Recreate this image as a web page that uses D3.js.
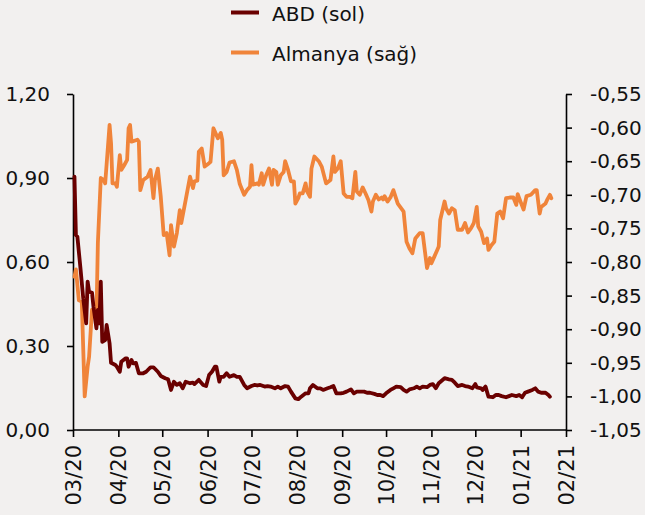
<!DOCTYPE html>
<html>
<head>
<meta charset="utf-8">
<script src="https://cdn.jsdelivr.net/npm/d3@7/dist/d3.min.js"></script>
<style>
  html, body { margin: 0; padding: 0; background: #F2F0EF; }
  svg { display: block; font-family: "DejaVu Sans", Verdana, sans-serif; }
</style>
</head>
<body>
<svg id="chart" width="645" height="515"></svg>
<script>
// ---- Data ----
const seriesNames = ["ABD (sol)", "Almanya (sağ)"];
const seriesColors = ["#6A0000", "#F0843A"];

// ABD – left axis
const abdSeries = [
  ["2020-03-02",0.905],["2020-03-03",0.696],["2020-03-04",0.690],["2020-03-06",0.583],
  ["2020-03-08",0.470],["2020-03-10",0.381],["2020-03-11",0.530],["2020-03-12",0.494],
  ["2020-03-14",0.490],["2020-03-15",0.440],["2020-03-17",0.363],["2020-03-18",0.429],
  ["2020-03-19",0.381],["2020-03-20",0.530],["2020-03-21",0.315],["2020-03-23",0.321],
  ["2020-03-24",0.375],["2020-03-26",0.310],["2020-03-27",0.240],["2020-03-30",0.232],
  ["2020-03-31",0.226],["2020-04-02",0.208],["2020-04-03",0.244],["2020-04-06",0.256],
  ["2020-04-07",0.256],["2020-04-08",0.226],["2020-04-10",0.250],["2020-04-11",0.238],
  ["2020-04-13",0.240],["2020-04-15",0.2025],["2020-04-18",0.2025],["2020-04-20",0.208],
  ["2020-04-23",0.224],["2020-04-25",0.224],["2020-04-28",0.208],["2020-04-30",0.193],
  ["2020-05-03",0.185],["2020-05-05",0.181],["2020-05-07",0.143],["2020-05-09",0.1725],
  ["2020-05-11",0.161],["2020-05-13",0.167],["2020-05-15",0.149],["2020-05-17",0.1725],
  ["2020-05-20",0.167],["2020-05-22",0.169],["2020-05-23",0.164],["2020-05-26",0.179],
  ["2020-05-29",0.161],["2020-05-31",0.157],["2020-06-02",0.196],["2020-06-04",0.208],
  ["2020-06-06",0.226],["2020-06-07",0.226],["2020-06-09",0.1725],["2020-06-10",0.190],
  ["2020-06-12",0.190],["2020-06-14",0.2025],["2020-06-16",0.190],["2020-06-19",0.196],
  ["2020-06-21",0.190],["2020-06-23",0.190],["2020-06-26",0.161],["2020-06-28",0.149],
  ["2020-07-01",0.157],["2020-07-03",0.161],["2020-07-05",0.159],["2020-07-07",0.161],
  ["2020-07-10",0.155],["2020-07-12",0.157],["2020-07-14",0.155],["2020-07-17",0.149],
  ["2020-07-19",0.155],["2020-07-21",0.149],["2020-07-24",0.157],["2020-07-26",0.155],
  ["2020-07-28",0.137],["2020-07-31",0.113],["2020-08-02",0.110],["2020-08-04",0.119],
  ["2020-08-07",0.131],["2020-08-09",0.131],["2020-08-10",0.149],["2020-08-12",0.161],
  ["2020-08-15",0.149],["2020-08-17",0.149],["2020-08-19",0.143],["2020-08-22",0.149],
  ["2020-08-24",0.1525],["2020-08-26",0.157],["2020-08-28",0.131],["2020-08-31",0.131],
  ["2020-09-02",0.133],["2020-09-04",0.137],["2020-09-07",0.145],["2020-09-09",0.131],
  ["2020-09-11",0.137],["2020-09-14",0.137],["2020-09-16",0.137],["2020-09-18",0.133],
  ["2020-09-20",0.133],["2020-09-23",0.129],["2020-09-25",0.125],["2020-09-27",0.125],
  ["2020-09-29",0.121],["2020-10-01",0.131],["2020-10-04",0.143],["2020-10-06",0.149],
  ["2020-10-08",0.155],["2020-10-11",0.153],["2020-10-13",0.143],["2020-10-15",0.137],
  ["2020-10-17",0.145],["2020-10-20",0.149],["2020-10-22",0.155],["2020-10-24",0.149],
  ["2020-10-26",0.155],["2020-10-29",0.153],["2020-10-31",0.161],["2020-11-02",0.164],
  ["2020-11-04",0.149],["2020-11-06",0.167],["2020-11-10",0.185],["2020-11-13",0.181],
  ["2020-11-15",0.179],["2020-11-17",0.169],["2020-11-19",0.157],["2020-11-22",0.161],
  ["2020-11-24",0.157],["2020-11-26",0.155],["2020-11-29",0.149],["2020-12-01",0.164],
  ["2020-12-02",0.1525],["2020-12-05",0.149],["2020-12-06",0.143],["2020-12-08",0.155],
  ["2020-12-10",0.119],["2020-12-13",0.117],["2020-12-15",0.125],["2020-12-17",0.125],
  ["2020-12-19",0.121],["2020-12-22",0.117],["2020-12-24",0.121],["2020-12-26",0.125],
  ["2020-12-29",0.121],["2020-12-31",0.125],["2021-01-02",0.117],["2021-01-04",0.133],
  ["2021-01-06",0.137],["2021-01-09",0.143],["2021-01-11",0.149],["2021-01-13",0.137],
  ["2021-01-15",0.133],["2021-01-18",0.133],["2021-01-20",0.125],["2021-01-21",0.119]
];

// Almanya – right axis
const almanyaSeries = [
  ["2020-03-02",-0.822],["2020-03-03",-0.811],["2020-03-05",-0.857],["2020-03-07",-0.859],
  ["2020-03-09",-1.000],["2020-03-11",-0.956],["2020-03-12",-0.941],["2020-03-14",-0.871],
  ["2020-03-15",-0.879],["2020-03-17",-0.884],["2020-03-18",-0.772],["2020-03-20",-0.675],
  ["2020-03-22",-0.678],["2020-03-23",-0.683],["2020-03-26",-0.596],["2020-03-27",-0.623],
  ["2020-03-28",-0.683],["2020-03-30",-0.683],["2020-03-31",-0.688],["2020-04-02",-0.641],
  ["2020-04-03",-0.663],["2020-04-05",-0.656],["2020-04-07",-0.648],["2020-04-08",-0.601],
  ["2020-04-09",-0.596],["2020-04-10",-0.621],["2020-04-14",-0.618],["2020-04-15",-0.621],
  ["2020-04-16",-0.693],["2020-04-18",-0.678],["2020-04-21",-0.673],["2020-04-23",-0.663],
  ["2020-04-25",-0.705],["2020-04-26",-0.678],["2020-04-28",-0.661],["2020-04-30",-0.703],
  ["2020-05-02",-0.760],["2020-05-04",-0.757],["2020-05-06",-0.790],["2020-05-07",-0.745],
  ["2020-05-09",-0.777],["2020-05-11",-0.757],["2020-05-13",-0.723],["2020-05-14",-0.742],
  ["2020-05-17",-0.708],["2020-05-20",-0.673],["2020-05-22",-0.690],["2020-05-23",-0.680],
  ["2020-05-25",-0.679],["2020-05-26",-0.636],["2020-05-28",-0.631],["2020-05-30",-0.658],
  ["2020-06-02",-0.653],["2020-06-03",-0.651],["2020-06-05",-0.601],["2020-06-07",-0.611],
  ["2020-06-08",-0.616],["2020-06-10",-0.608],["2020-06-11",-0.618],["2020-06-12",-0.671],
  ["2020-06-14",-0.666],["2020-06-16",-0.652],["2020-06-19",-0.650],["2020-06-21",-0.663],
  ["2020-06-23",-0.684],["2020-06-26",-0.700],["2020-06-28",-0.693],["2020-06-30",-0.688],
  ["2020-07-01",-0.656],["2020-07-02",-0.685],["2020-07-05",-0.683],["2020-07-06",-0.685],
  ["2020-07-08",-0.668],["2020-07-09",-0.685],["2020-07-11",-0.671],["2020-07-13",-0.661],
  ["2020-07-15",-0.685],["2020-07-16",-0.663],["2020-07-18",-0.666],["2020-07-19",-0.685],
  ["2020-07-21",-0.671],["2020-07-23",-0.666],["2020-07-24",-0.650],["2020-07-26",-0.663],
  ["2020-07-28",-0.680],["2020-07-30",-0.680],["2020-07-31",-0.713],["2020-08-02",-0.705],
  ["2020-08-03",-0.698],["2020-08-05",-0.698],["2020-08-07",-0.683],["2020-08-08",-0.695],
  ["2020-08-10",-0.703],["2020-08-11",-0.661],["2020-08-13",-0.643],["2020-08-16",-0.650],
  ["2020-08-18",-0.658],["2020-08-21",-0.683],["2020-08-24",-0.678],["2020-08-26",-0.643],
  ["2020-08-27",-0.666],["2020-08-29",-0.661],["2020-08-31",-0.650],["2020-09-02",-0.698],
  ["2020-09-04",-0.703],["2020-09-06",-0.703],["2020-09-08",-0.705],["2020-09-10",-0.666],
  ["2020-09-11",-0.695],["2020-09-13",-0.700],["2020-09-15",-0.689],["2020-09-17",-0.698],
  ["2020-09-19",-0.708],["2020-09-21",-0.725],["2020-09-22",-0.710],["2020-09-24",-0.700],
  ["2020-09-26",-0.707],["2020-09-28",-0.704],["2020-09-29",-0.707],["2020-09-30",-0.702],
  ["2020-10-02",-0.710],["2020-10-04",-0.704],["2020-10-06",-0.693],["2020-10-09",-0.713],
  ["2020-10-11",-0.719],["2020-10-13",-0.725],["2020-10-15",-0.770],["2020-10-17",-0.780],
  ["2020-10-19",-0.787],["2020-10-21",-0.765],["2020-10-24",-0.757],["2020-10-26",-0.757],
  ["2020-10-29",-0.809],["2020-10-31",-0.794],["2020-11-01",-0.802],["2020-11-03",-0.792],
  ["2020-11-05",-0.782],["2020-11-06",-0.777],["2020-11-07",-0.7375],["2020-11-10",-0.710],
  ["2020-11-11",-0.720],["2020-11-13",-0.728],["2020-11-15",-0.720],["2020-11-17",-0.723],
  ["2020-11-19",-0.752],["2020-11-22",-0.752],["2020-11-24",-0.742],["2020-11-26",-0.756],
  ["2020-11-28",-0.750],["2020-11-30",-0.742],["2020-12-02",-0.718],["2020-12-03",-0.747],
  ["2020-12-05",-0.755],["2020-12-07",-0.772],["2020-12-09",-0.765],["2020-12-10",-0.782],
  ["2020-12-12",-0.775],["2020-12-14",-0.770],["2020-12-16",-0.728],["2020-12-18",-0.725],
  ["2020-12-20",-0.735],["2020-12-22",-0.705],["2020-12-25",-0.704],["2020-12-27",-0.704],
  ["2020-12-29",-0.715],["2020-12-30",-0.699],["2020-12-31",-0.705],["2021-01-03",-0.722],
  ["2021-01-05",-0.702],["2021-01-08",-0.700],["2021-01-11",-0.693],["2021-01-12",-0.693],
  ["2021-01-14",-0.728],["2021-01-15",-0.718],["2021-01-18",-0.713],["2021-01-19",-0.708],
  ["2021-01-21",-0.700],["2021-01-22",-0.705]
];

const xTickLabels = ["03/20","04/20","05/20","06/20","07/20","08/20","09/20","10/20","11/20","12/20","01/21","02/21"];
const leftTicks = [0.00, 0.30, 0.60, 0.90, 1.20];
const rightTicks = [-1.05,-1.00,-0.95,-0.90,-0.85,-0.80,-0.75,-0.70,-0.65,-0.60,-0.55];

// ---- Layout ----
const W = 645, H = 515;
const margin = { left: 73, right: W - 566, top: 94, bottom: H - 430 };
const parse = d3.timeParse("%Y-%m-%d");
const locale = d3.formatLocale({ decimal: ",", thousands: ".", grouping: [3], currency: ["", ""], minus: "-" });
const fmt = locale.format(".2f");

const svg = d3.select("#chart");
svg.append("rect").attr("width", W).attr("height", H).attr("fill", "#F2F0EF");

const tickDates = xTickLabels.map(s => parse("20" + s.slice(3) + "-" + s.slice(0, 2) + "-01"));
const x = d3.scaleTime()
  .domain([tickDates[0], tickDates[tickDates.length - 1]])
  .range([margin.left, W - margin.right]);
const yL = d3.scaleLinear().domain([leftTicks[0], leftTicks[leftTicks.length - 1]])
  .range([H - margin.bottom, margin.top]);
const yR = d3.scaleLinear().domain([rightTicks[0], rightTicks[rightTicks.length - 1]])
  .range([H - margin.bottom, margin.top]);

// Axes
const axisStyle = g => {
  g.select(".domain").attr("stroke", "#000").attr("stroke-width", 1.6);
  g.selectAll(".tick line").attr("stroke", "#000").attr("stroke-width", 1.6);
  g.selectAll("text").attr("fill", "#111").attr("font-size", 20)
    .attr("font-family", "'DejaVu Sans', Verdana, sans-serif");
};

svg.append("g")
  .attr("transform", `translate(${margin.left},0)`)
  .call(d3.axisLeft(yL).tickValues(leftTicks).tickFormat(fmt).tickSize(6).tickSizeOuter(0).tickPadding(17))
  .call(axisStyle);

svg.append("g")
  .attr("transform", `translate(${W - margin.right},0)`)
  .call(d3.axisRight(yR).tickValues(rightTicks).tickFormat(fmt).tickSize(6).tickSizeOuter(0).tickPadding(18))
  .call(axisStyle);

const xAxisG = svg.append("g")
  .attr("transform", `translate(0,${H - margin.bottom})`)
  .call(d3.axisBottom(x).tickValues(tickDates).tickFormat((d, i) => xTickLabels[i]).tickSize(7).tickSizeOuter(0))
  .call(axisStyle);
xAxisG.selectAll(".domain").attr("d", `M${margin.left},0H${W - margin.right}`);
xAxisG.selectAll(".tick text")
  .attr("transform", "rotate(-90)")
  .attr("text-anchor", "end")
  .attr("x", -15)
  .attr("y", 0)
  .attr("dy", "0.36em")
  .attr("font-size", 21);

// Lines
const lineL = d3.line().x(d => x(parse(d[0]))).y(d => yL(d[1])).curve(d3.curveLinear);
const lineR = d3.line().x(d => x(parse(d[0]))).y(d => yR(d[1])).curve(d3.curveLinear);

svg.append("path").datum(almanyaSeries)
  .attr("d", lineR).attr("fill", "none").attr("stroke", seriesColors[1])
  .attr("stroke-width", 3.8).attr("stroke-linejoin", "round").attr("stroke-linecap", "round");

svg.append("path").datum(abdSeries)
  .attr("d", lineL).attr("fill", "none").attr("stroke", seriesColors[0])
  .attr("stroke-width", 3.8).attr("stroke-linejoin", "round").attr("stroke-linecap", "round");

// Legend
const legend = svg.append("g");
const legendRows = [21, 61];
seriesNames.forEach((name, i) => {
  const by = legendRows[i];
  legend.append("line")
    .attr("x1", 231).attr("x2", 259)
    .attr("y1", by - 8.5).attr("y2", by - 8.5)
    .attr("stroke", seriesColors[i]).attr("stroke-width", 4);
  legend.append("text")
    .attr("x", 272).attr("y", by)
    .attr("font-size", 20).attr("fill", "#111")
    .text(name);
});
</script>
</body>
</html>
